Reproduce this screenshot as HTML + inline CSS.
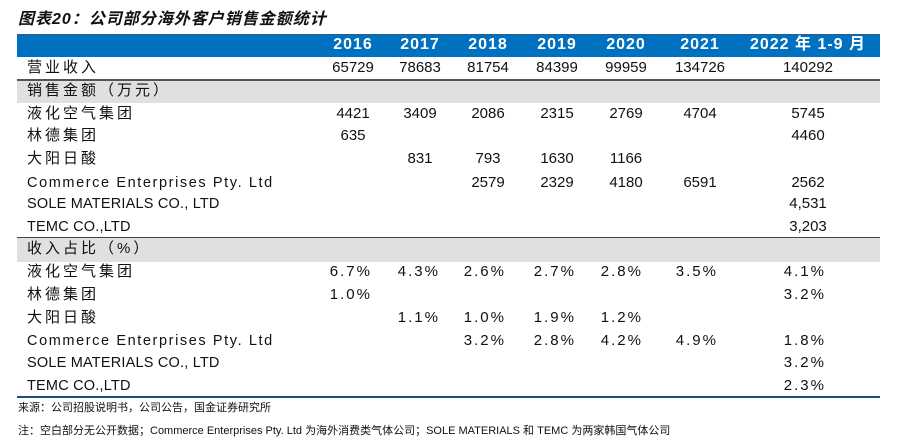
<!DOCTYPE html>
<html><head><meta charset="utf-8"><style>
body{margin:0;width:912px;height:447px;background:#fff;position:relative;overflow:hidden;font-family:"Liberation Sans","Noto Sans CJK SC",sans-serif;color:#111}
.a{position:absolute;white-space:nowrap;line-height:20px;height:20px}
.c{transform:translateX(-50%)}
.r{transform:translateX(-100%)}
.cn{font-size:15px;letter-spacing:3px}
.en{font-size:14.5px;letter-spacing:0.9px}
.num{font-size:15px}
.pct{font-size:15px;letter-spacing:2px}
</style></head><body>
<div class="a" style="left:18px;top:10px;font-size:16px;font-weight:bold;font-style:italic;letter-spacing:1px">图表20：公司部分海外客户销售金额统计</div>
<div style="position:absolute;left:17px;top:34px;width:863px;height:22px;background:#0070c0;border-top:1px solid #2a5d8a"></div>
<div style="position:absolute;left:17px;top:81px;width:863px;height:22px;background:#e0e0e0"></div>
<div style="position:absolute;left:17px;top:238px;width:863px;height:24px;background:#e0e0e0"></div>
<div style="position:absolute;left:17px;top:79px;width:863px;height:2px;background:#555"></div>
<div style="position:absolute;left:17px;top:237px;width:863px;height:1px;background:#444"></div>
<div style="position:absolute;left:17px;top:396px;width:863px;height:2px;background:#1f4e79"></div>
<div id="t"></div>
<div class="a" style="left:18px;top:398px;font-size:11px">来源：公司招股说明书，公司公告，国金证券研究所</div>
<div class="a" style="left:18px;top:421px;font-size:11px">注：空白部分无公开数据；Commerce Enterprises Pty. Ltd 为海外消费类气体公司；SOLE MATERIALS 和 TEMC 为两家韩国气体公司</div>
<script>
const years=["2016","2017","2018","2019","2020","2021","2022 年 1-9 月"];
const colX=[353,420,488,557,626,700,808];
const pctR=[372,440,506,576,643,718,826];
const revenue=["65729","78683","81754","84399","99959","134726","140292"];
const customers=["液化空气集团","林德集团","大阳日酸","Commerce Enterprises Pty. Ltd","SOLE MATERIALS CO., LTD","TEMC CO.,LTD"];
const sales=[["4421","3409","2086","2315","2769","4704","5745"],["635","","","","","","4460"],["","831","793","1630","1166","","" ],["","","2579","2329","4180","6591","2562"],["","","","","","","4,531"],["","","","","","","3,203"]];
const ratios=[["6.7%","4.3%","2.6%","2.7%","2.8%","3.5%","4.1%"],["1.0%","","","","","","3.2%"],["","1.1%","1.0%","1.9%","1.2%","",""],["","","3.2%","2.8%","4.2%","4.9%","1.8%"],["","","","","","","3.2%"],["","","","","","","2.3%"]];
const salesY=[114,136,159,183,204,227], ratioY=[272,295,318,341,363,386];
const enSpacing={"Commerce Enterprises Pty. Ltd":"1.6px","SOLE MATERIALS CO., LTD":"0.2px","TEMC CO.,LTD":"0.2px"};
const T=document.getElementById('t');
function add(txt,x,y,cls,st){const d=document.createElement('div');d.className='a '+cls;d.textContent=txt;d.style.left=x+'px';d.style.top=(y-10)+'px';if(st)d.style.cssText+=st;T.appendChild(d);return d;}
years.forEach((y,i)=>{const d=add(y,colX[i],45,'c','font-size:16px;font-weight:bold;color:#fff;letter-spacing:1px');

});
let d=add('营业收入',27,68,'cn');


revenue.forEach((v,i)=>{const e=add(v,colX[i],68,'c num');

});
d=add('销售金额（万元）',27,91,'cn');


d=add('收入占比（%）',27,249,'cn');


customers.forEach((n,r)=>{
 const isCn=/[\u4e00-\u9fff]/.test(n);
 const ls=isCn?'':'letter-spacing:'+enSpacing[n];
 let e=add(n,27,salesY[r],isCn?'cn':'en',ls);
 
 
 e=add(n,27,ratioY[r],isCn?'cn':'en',ls);
 
 
 sales[r].forEach((v,i)=>{if(!v)return;const s=add(v,colX[i],salesY[r],'c num');
 
 });
 ratios[r].forEach((v,i)=>{if(!v)return;const s=add(v,pctR[i],ratioY[r],'r pct');
 
 });
});
</script>
</body></html>
